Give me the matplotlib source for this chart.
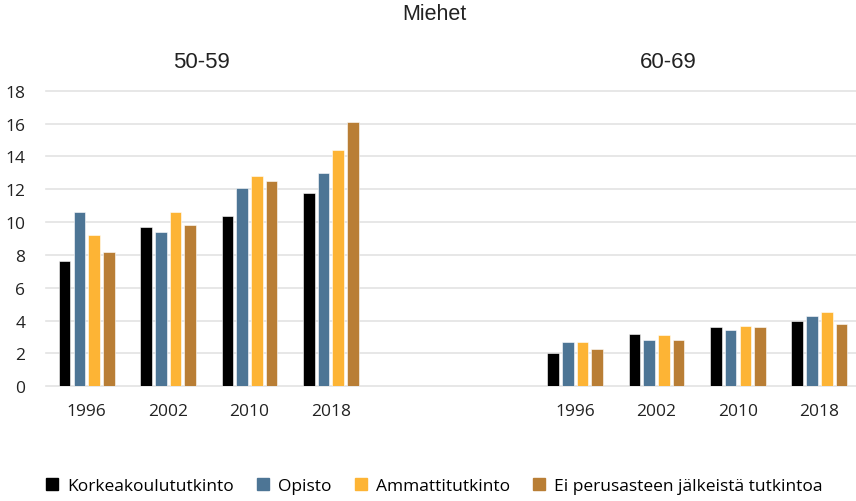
import matplotlib
matplotlib.use("Agg")
import matplotlib.pyplot as plt
from matplotlib.lines import Line2D
import numpy as np

title = "Miehet"
age_groups = ["50-59", "60-69"]
years = ["1996", "2002", "2010", "2018"]
series_names = ["Korkeakoulututkinto", "Opisto", "Ammattitutkinto",
                "Ei perusasteen jälkeistä tutkintoa"]
colors = ["#000000", "#4d7595", "#fdb435", "#b97e35"]

# values per series, order: 50-59 (1996, 2002, 2010, 2018), 60-69 (1996, 2002, 2010, 2018)
korkeakoulu = [7.6, 9.7, 10.4, 11.8, 2.0, 3.2, 3.6, 4.0]
opisto = [10.6, 9.4, 12.1, 13.0, 2.7, 2.8, 3.4, 4.3]
ammatti = [9.2, 10.6, 12.8, 14.4, 2.7, 3.1, 3.7, 4.5]
ei_perus = [8.2, 9.8, 12.5, 16.1, 2.3, 2.8, 3.6, 3.8]
series = [korkeakoulu, opisto, ammatti, ei_perus]

yticks = list(range(0, 20, 2))

fig = plt.figure(figsize=(8.56, 5.02), dpi=100)
ax = fig.add_axes([46 / 856, 1 - 387.3 / 502, 1 - 46 / 856, (387.3 - 91.7) / 502])

# category slots: 4 years, 2 empty slots, 4 years
slots = [0, 1, 2, 3, 6, 7, 8, 9]
step = 0.181
width = 0.143
for i, (vals, c, name) in enumerate(zip(series, colors, series_names)):
    x = np.array(slots) + (i - 1.5) * step
    ax.bar(x, vals, width=width, color=c, label=name, zorder=3,
           edgecolor="white", linewidth=0.4)

ax.set_xlim(-0.5, 9.45)
ax.set_ylim(0, 18)
ax.set_yticks(yticks)
ax.set_yticklabels([str(v) for v in yticks], fontsize=12.5, family="Open Sans",
                   color="#222222")
ax.set_xticks(slots)
ax.set_xticklabels(years * 2, fontsize=12.5, family="Open Sans", color="#222222")
ax.tick_params(axis="y", length=0, pad=15)
ax.tick_params(axis="x", length=0, pad=12)
ax.grid(axis="y", color="#e3e3e3", linewidth=1.2, zorder=0)
for s in ax.spines.values():
    s.set_visible(False)
for gl in ax.get_ygridlines():
    gl.set_clip_on(False)

fig.text(434 / 856, 1 - 15 / 502, title, ha="center", va="center",
         fontsize=15.5, family="Liberation Sans", color="#222222")
fig.text(201 / 856, 1 - 62 / 502, age_groups[0], ha="center", va="center",
         fontsize=16, family="Liberation Sans", color="#222222")
fig.text(668 / 856, 1 - 62 / 502, age_groups[1], ha="center", va="center",
         fontsize=16, family="Liberation Sans", color="#222222")

handles = [Line2D([0], [0], marker="s", linestyle="none", markersize=9,
                  markerfacecolor=c, markeredgecolor=c) for c in colors]
fig.legend(handles, series_names, loc="center", ncol=4,
           bbox_to_anchor=(434 / 856, 1 - 487 / 502), frameon=False,
           handlelength=0.8, handletextpad=0.45, columnspacing=1.3,
           prop={"family": "Open Sans", "size": 12.5})

fig.savefig("out.png", dpi=100)
